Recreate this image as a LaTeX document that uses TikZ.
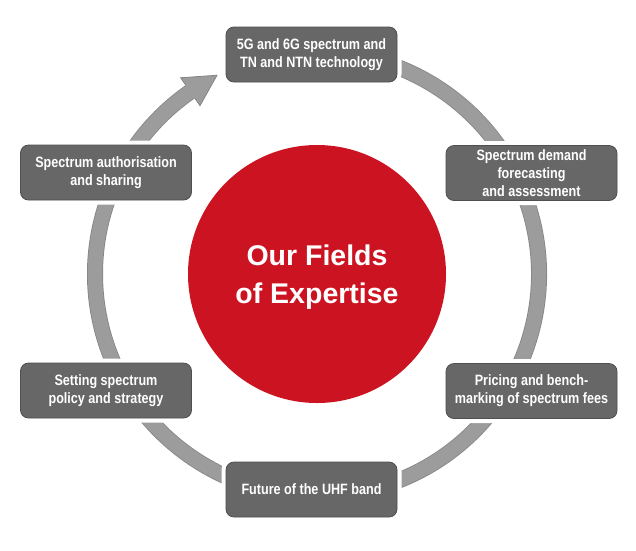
\documentclass[tikz,border=0pt]{standalone}
\usepackage{fontspec}
\newfontfamily\condfont{Liberation Sans}[FakeStretch=0.84]
\newfontfamily\circfont{Liberation Sans}
\definecolor{ringfill}{HTML}{9C9C9C}
\definecolor{ringedge}{HTML}{858585}
\definecolor{boxfill}{HTML}{676767}
\definecolor{boxedge}{HTML}{4F4F4F}
\definecolor{redfill}{HTML}{CC1321}
\tikzset{
  fieldbox/.style={preaction={draw=white,line width=9pt},
    fill=boxfill, draw=boxedge, line width=0.8pt, rounded corners=8pt,
    minimum width=171pt, minimum height=55pt, inner sep=0pt,
    align=center, text=white,
    font=\condfont\bfseries\fontsize{15}{17.8}\selectfont},
  ringband/.style={line width=#1, line cap=butt}
}
\begin{document}
\begin{tikzpicture}[x=1pt,y=-1pt]
\useasboundingbox (0,0) rectangle (636,550);
\coordinate (C) at (317,274);
% ring
\draw[ringedge, ringband=16pt] ([shift={(C)}]255:222) arc[start angle=255, end angle=595.2, radius=222];
\draw[ringfill, ringband=14.4pt] ([shift={(C)}]255:222) arc[start angle=255, end angle=595.4, radius=222];
% arrowhead
\fill[ringfill] ([shift={(C)}]235.2:239) -- ([shift={(C)}]243.3:222.5) -- ([shift={(C)}]235.2:205) -- cycle;
\draw[ringedge, line width=0.8pt, line join=miter] ([shift={(C)}]235.2:230) -- ([shift={(C)}]235.2:239) -- ([shift={(C)}]243.3:222.5) -- ([shift={(C)}]235.2:205) -- ([shift={(C)}]235.2:214);
% centre
\node[circle, fill=redfill, minimum size=258pt, inner sep=0pt] (centre) at (C) {};
\node[text=white, align=center, font=\circfont\bfseries\fontsize{28.5}{37.5}\selectfont] (title) at (317,277) {Our Fields\\of Expertise};
% boxes
\node[fieldbox] (b1) at (311.5,54.5) {5G and 6G spectrum and\\TN and NTN technology};
\node[fieldbox] (b2) at (106,172.5) {Spectrum authorisation\\and sharing};
\node[fieldbox] (b3) at (531.5,173) {Spectrum demand\\forecasting\\and assessment};
\node[fieldbox] (b4) at (106,390.5) {Setting spectrum\\policy and strategy};
\node[fieldbox] (b5) at (531.5,391) {Pricing and bench-\\marking of spectrum fees};
\node[fieldbox] (b6) at (311.5,489.5) {Future of the UHF band};
\end{tikzpicture}
\end{document}
